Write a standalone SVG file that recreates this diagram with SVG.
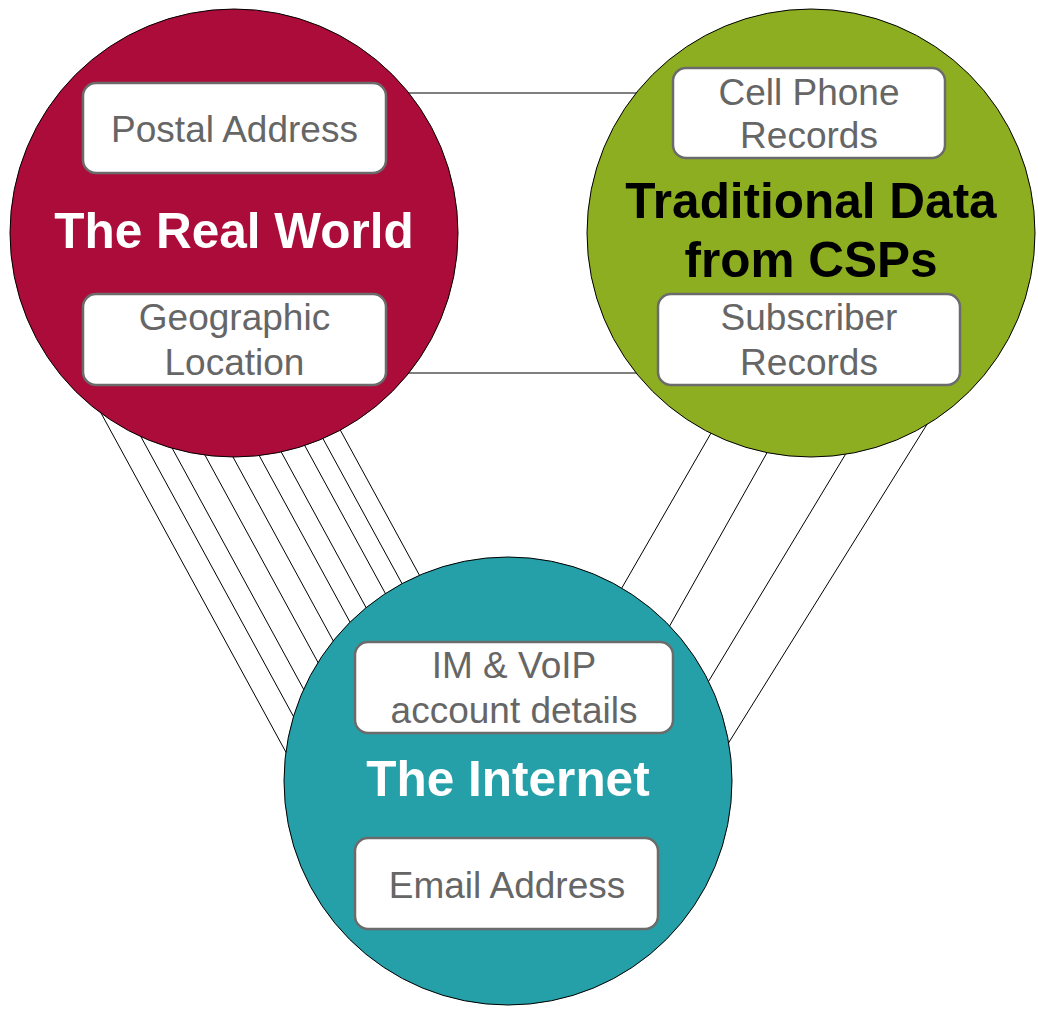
<svg xmlns="http://www.w3.org/2000/svg" width="1038" height="1010" viewBox="0 0 1038 1010">
<style>
.c{stroke:#000;stroke-width:1}
.box{fill:#fff;stroke:#6b6b6b;stroke-width:2.5}
.bt{font-family:"Liberation Sans",Arial,sans-serif;font-size:37px;fill:#666;text-anchor:middle}
.ht{font-family:"Liberation Sans",Arial,sans-serif;font-size:49.5px;font-weight:bold;text-anchor:middle}
#connectors line{stroke:#000;stroke-width:1}
</style>
<rect width="1038" height="1010" fill="#fff"/>
<g id="connectors">
<line x1="300" y1="93" x2="750" y2="93"/>
<line x1="300" y1="373" x2="750" y2="373"/>
<line x1="83" y1="380" x2="312" y2="800"/>
<line x1="110" y1="380" x2="339" y2="800"/>
<line x1="135" y1="380" x2="364" y2="800"/>
<line x1="164" y1="380" x2="393" y2="800"/>
<line x1="191" y1="380" x2="420" y2="800"/>
<line x1="218" y1="380" x2="447" y2="800"/>
<line x1="242" y1="380" x2="471" y2="800"/>
<line x1="269" y1="380" x2="498" y2="800"/>
<line x1="291" y1="380" x2="520" y2="800"/>
<line x1="313" y1="380" x2="542" y2="800"/>
<line x1="741.6" y1="380" x2="499.7" y2="800"/>
<line x1="807.9" y1="380" x2="571.8" y2="800"/>
<line x1="890.3" y1="380" x2="637" y2="800"/>
<line x1="954.6" y1="380" x2="693" y2="800"/>
</g>
<g id="real-world">
<circle class="c" cx="234" cy="233" r="224" fill="#AC0C3A"/>
<text class="ht" x="234" y="248" fill="#fff">The Real World</text>
</g>
<g id="postal-address">
<rect class="box" x="83" y="83" width="303" height="90" rx="13"/>
<text class="bt" x="234.5" y="142">Postal Address</text>
</g>
<g id="geographic-location">
<rect class="box" x="83" y="294" width="303" height="91" rx="13"/>
<text class="bt" x="234.5" y="330">Geographic</text>
<text class="bt" x="234.5" y="375">Location</text>
</g>
<g id="traditional-data">
<circle class="c" cx="811" cy="233" r="224" fill="#8EAE22"/>
<text class="ht" x="811" y="218" fill="#000">Traditional Data</text>
<text class="ht" x="811" y="277" fill="#000">from CSPs</text>
</g>
<g id="cell-phone-records">
<rect class="box" x="673" y="68" width="272" height="90" rx="13"/>
<text class="bt" x="809" y="105">Cell Phone</text>
<text class="bt" x="809" y="148">Records</text>
</g>
<g id="subscriber-records">
<rect class="box" x="658" y="294" width="302" height="91" rx="13"/>
<text class="bt" x="809" y="330">Subscriber</text>
<text class="bt" x="809" y="375">Records</text>
</g>
<g id="internet">
<circle class="c" cx="508" cy="781" r="224" fill="#26A0A8"/>
<text class="ht" x="508" y="796" fill="#fff">The Internet</text>
</g>
<g id="im-voip">
<rect class="box" x="355" y="642" width="318" height="91" rx="13"/>
<text class="bt" x="514" y="678">IM &amp; VoIP</text>
<text class="bt" x="514" y="723">account details</text>
</g>
<g id="email-address">
<rect class="box" x="355" y="838" width="303" height="91" rx="13"/>
<text class="bt" x="507" y="898">Email Address</text>
</g>
</svg>
